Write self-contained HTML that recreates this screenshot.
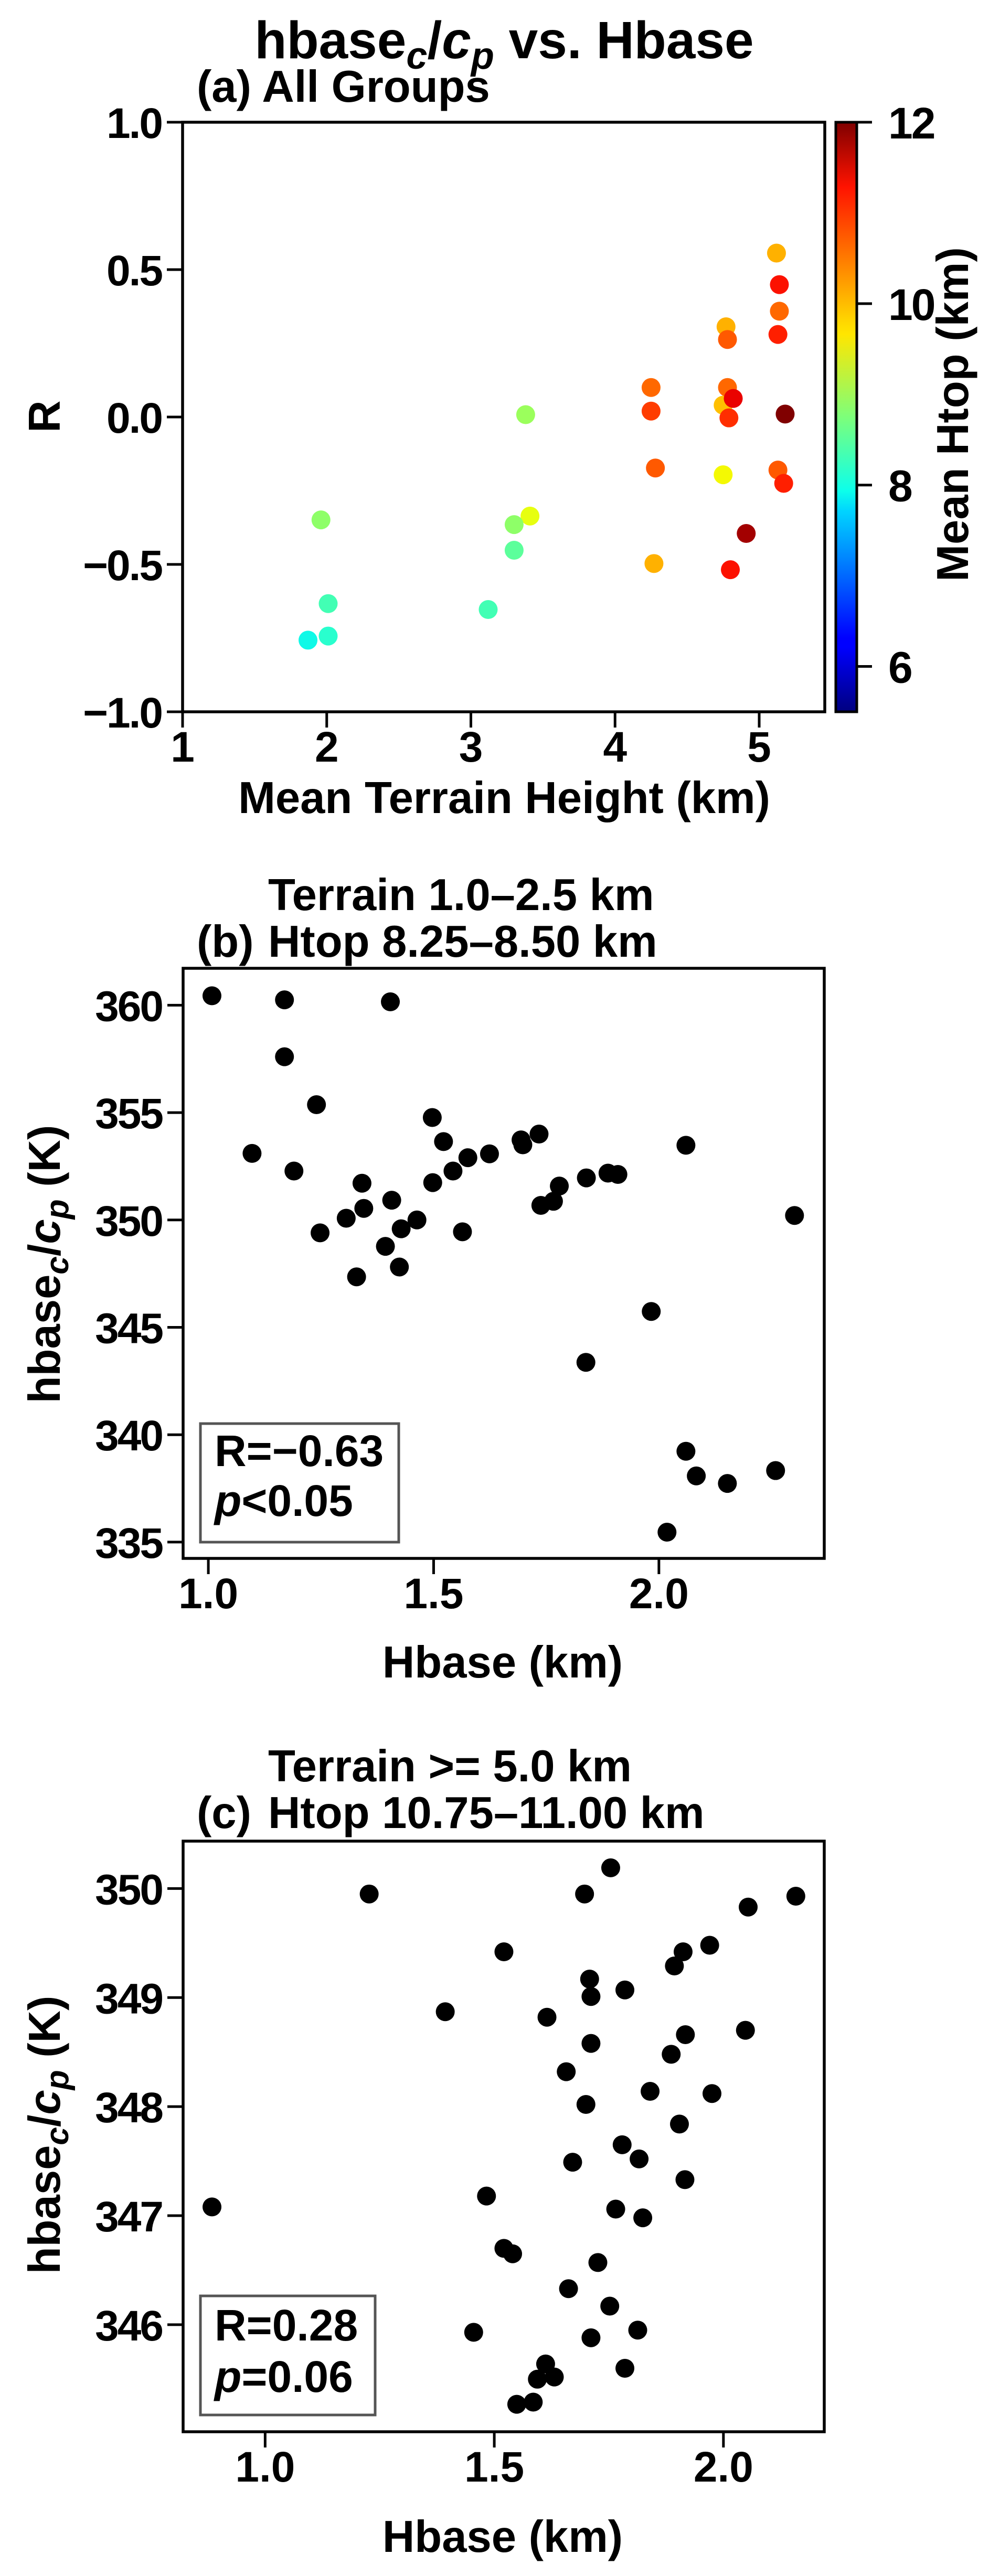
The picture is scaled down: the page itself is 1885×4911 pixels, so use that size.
<!DOCTYPE html>
<html><head><meta charset="utf-8"><style>
html,body{margin:0;padding:0;background:#fff;}
svg text{font-family:"Liberation Sans",sans-serif;font-weight:bold;fill:#000;}
</style></head><body>
<svg id="fig" width="1885" height="4906" viewBox="0 0 1885 4906" xmlns="http://www.w3.org/2000/svg">
<defs>
<linearGradient id="jetgrad" x1="0" y1="1" x2="0" y2="0">
<stop offset="0" stop-color="#00007f"/><stop offset="0.11" stop-color="#0000ff"/><stop offset="0.125" stop-color="#0000ff"/>
<stop offset="0.34" stop-color="#00d4ff"/><stop offset="0.375" stop-color="#0dffea"/><stop offset="0.5" stop-color="#7dff7a"/>
<stop offset="0.64" stop-color="#ffe600"/><stop offset="0.66" stop-color="#ffd800"/><stop offset="0.89" stop-color="#ff1300"/><stop offset="1" stop-color="#7f0000"/>
</linearGradient>
</defs>
<text x="961" y="111" font-size="100" text-anchor="middle">hbase<tspan font-style="italic" font-size="72" dy="20">c</tspan><tspan dy="-20">/</tspan><tspan font-style="italic">c</tspan><tspan font-style="italic" font-size="72" dy="20">p</tspan><tspan dy="-20"> vs. Hbase</tspan></text>
<g id="g"></g>
</svg>
<script>
// ---------- Panel (a) data ----------
const aTerrain = [5.12,5.14,5.14,5.13,4.77,4.78,4.25,4.25,4.78,4.75,4.82,4.79,5.18,3.38,4.28,4.75,5.13,5.17,3.41,3.30,1.96,4.91,3.30,4.27,4.80,2.01,3.12,2.01,1.87];
const aR = [0.556,0.449,0.359,0.28,0.306,0.263,0.10,0.02,0.10,0.04,0.063,-0.003,0.01,0.008,-0.173,-0.196,-0.18,-0.225,-0.336,-0.365,-0.349,-0.395,-0.452,-0.497,-0.518,-0.633,-0.653,-0.743,-0.757];
const aHtop = [10.2,11.3,10.7,11.2,10.2,10.8,10.7,11.0,10.7,10.1,11.4,11.1,12.0,9.0,10.8,9.7,10.8,11.2,9.6,8.9,8.9,11.8,8.5,10.2,11.3,8.3,8.3,8.1,7.9];
const aXTicks = [1,2,3,4,5];
const aYTicks = [1.0,0.5,0.0,-0.5,-1.0];
const cbTicks = [6,8,10,12];
// ---------- Panel (b) data ----------
const bHbase = [1.008,1.169,1.404,1.169,1.24,1.497,1.097,1.522,1.576,1.624,1.694,1.698,1.734,2.06,1.19,1.543,1.498,1.341,1.839,1.887,1.909,1.779,1.738,1.766,1.407,1.345,1.306,1.463,1.428,1.248,1.564,1.393,1.424,1.329,2.301,1.983,1.838,2.06,2.083,2.152,2.259,2.018];
const bTheta = [360.44,360.25,360.16,357.6,355.37,354.77,353.1,353.65,352.9,353.08,353.73,353.5,354.0,353.48,352.28,352.28,351.74,351.71,351.96,352.18,352.12,351.58,350.68,350.87,350.92,350.54,350.08,350.0,349.59,349.4,349.45,348.77,347.81,347.35,350.21,345.74,343.37,339.23,338.08,337.73,338.33,335.46];
const bXTicks = [1.0,1.5,2.0];
const bYTicks = [335,340,345,350,355,360];
// ---------- Panel (c) data ----------
const cHbase = [1.754,1.227,1.697,2.158,2.054,1.97,1.912,1.893,1.521,1.708,1.711,1.785,1.393,1.615,2.048,1.917,1.711,1.886,1.657,1.84,1.975,1.70,1.904,1.779,1.816,1.671,1.916,1.483,0.884,1.765,1.824,1.521,1.54,1.726,1.662,1.752,1.455,1.813,1.711,1.785,1.612,1.594,1.631,1.549,1.585];
const cTheta = [350.19,349.95,349.95,349.93,349.83,349.48,349.42,349.29,349.42,349.17,349.01,349.07,348.87,348.82,348.70,348.66,348.58,348.48,348.32,348.14,348.12,348.02,347.84,347.65,347.52,347.49,347.33,347.18,347.08,347.06,346.98,346.70,346.65,346.57,346.33,346.17,345.93,345.95,345.88,345.60,345.64,345.50,345.52,345.27,345.29];
const cXTicks = [1.0,1.5,2.0];
const cYTicks = [346,347,348,349,350];

const NS="http://www.w3.org/2000/svg";
const root=document.getElementById('g');
function mk(tag,attrs,parent,txt){const e=document.createElementNS(NS,tag);for(const k in attrs)e.setAttribute(k,attrs[k]);if(txt!==undefined)e.textContent=txt;(parent||root).appendChild(e);return e;}
function lin(d0,d1,p0,p1){return v=>p0+(v-d0)*(p1-p0)/(d1-d0);}
function interp(x,pts){for(let i=1;i<pts.length;i++){if(x<=pts[i][0]){const a=pts[i-1],b=pts[i];return a[1]+(x-a[0])*(b[1]-a[1])/(b[0]-a[0]);}}return pts[pts.length-1][1];}
function jet(t){t=Math.max(0,Math.min(1,t));
 const r=interp(t,[[0,0],[0.35,0],[0.66,1],[0.89,1],[1,0.5]]);
 const g=interp(t,[[0,0],[0.125,0],[0.375,1],[0.64,1],[0.91,0],[1,0]]);
 const b=interp(t,[[0,0.5],[0.11,1],[0.34,1],[0.65,0],[1,0]]);
 return `rgb(${Math.round(r*255)},${Math.round(g*255)},${Math.round(b*255)})`;}

function panel(name,L,R,T,B,xr,yr,xt,yt,xfmt,yfmt){
 const g=mk('g',{});
 
 
 const sx=lin(xr[0],xr[1],L,R), sy=lin(yr[0],yr[1],B,T);
 xt.forEach(v=>{const x=sx(v);
  const tk=mk('line',{x1:x,y1:B,x2:x,y2:B+30,stroke:'#000','stroke-width':5},g);
  
  
  const lb=mk('text',{x:x,y:B+95,'font-size':82,'text-anchor':'middle'},g,xfmt(v));
  
  });
 yt.forEach(v=>{const y=sy(v);
  const tk=mk('line',{x1:L-30,y1:y,x2:L,y2:y,stroke:'#000','stroke-width':5},g);
  
  
  const lb=mk('text',{x:L-40,y:y+30,'font-size':82,'text-anchor':'end','letter-spacing':'-3'},g,yfmt(v));
  
  });
 const fr=mk('rect',{x:L,y:T,width:R-L,height:B-T,fill:'none',stroke:'#000','stroke-width':5.5},g);
 
 
 return {g,sx,sy};
}
const mf=v=>v<0?'\u2212'+Math.abs(v).toFixed(1):v.toFixed(1);

// Panel a
const pa=panel('panel-a',348,1572,233,1357,[1,5.455],[-1,1],aXTicks,aYTicks,v=>String(v),mf);
aTerrain.forEach((v,i)=>{const c=mk('circle',{cx:pa.sx(v),cy:pa.sy(aR[i]),r:18,fill:jet((aHtop[i]-5.5)/6.5)},pa.g);
 
 });
// colorbar
const cb=mk('rect',{x:1593,y:233,width:40,height:1124,fill:'url(#jetgrad)',stroke:'#000','stroke-width':5});


const cy=lin(5.5,12,1357,233);
cbTicks.forEach(v=>{const y=cy(v);
 const t=mk('line',{x1:1633,y1:y,x2:1662,y2:y,stroke:'#000','stroke-width':5});
 
 
 const l=mk('text',{x:1693,y:y+31,'font-size':84,'letter-spacing':'-3'},undefined,String(v));
 
 });
</script>
<script>
// static labels & panels b, c
(function(){
const lbl=[
 ['panel-a-subtitle',375,194,85,'start','(a) All Groups'],
 ['x-axis-title-a',961,1550,85,'middle','Mean Terrain Height (km)'],
 ['panel-b-title',511,1735,85,'start','Terrain 1.0\u20132.5 km'],
 ['panel-b-subtitle',511,1824,85,'start','Htop 8.25\u20138.50 km'],
 ['panel-b-label',375,1824,85,'start','(b)'],
 ['x-axis-title-b',958,3198,85,'middle','Hbase (km)'],
 ['panel-c-title',511,3396,85,'start','Terrain >= 5.0 km'],
 ['panel-c-subtitle',511,3485,85,'start','Htop 10.75\u201311.00 km'],
 ['panel-c-label',375,3485,85,'start','(c)'],
 ['x-axis-title-c',958,4865,85,'middle','Hbase (km)']];
lbl.forEach(a=>{const t=mk('text',{x:a[1],y:a[2],'font-size':a[3],'text-anchor':a[4]},undefined,a[5]);
 
 });
const ra=mk('text',{x:0,y:0,'font-size':85,'text-anchor':'middle',transform:'translate(114,794) rotate(-90)'},undefined,'R');


const cl=mk('text',{x:0,y:0,'font-size':85,'text-anchor':'middle',transform:'translate(1845,790) rotate(-90)'},undefined,'Mean Htop (km)');


function ylab(name,cx,cyy){const t=mk('text',{x:0,y:0,'font-size':85,'text-anchor':'middle',transform:`translate(${cx},${cyy}) rotate(-90)`});
 
 
 t.innerHTML='hbase<tspan font-style="italic" font-size="62" dy="16">c</tspan><tspan dy="-16">/</tspan><tspan font-style="italic">c</tspan><tspan font-style="italic" font-size="62" dy="16">p</tspan><tspan dy="-16"> (K)</tspan>';}
ylab('y-axis-title-b',114,2410);
ylab('y-axis-title-c',114,4070);

const pb=panel('panel-b',349,1571,1846,2971,[0.944,2.367],[334.24,361.72],bXTicks,bYTicks,v=>v.toFixed(1),v=>String(v));
bHbase.forEach((v,i)=>{const c=mk('circle',{cx:pb.sx(v),cy:pb.sy(bTheta[i]),r:18,fill:'#000'},pb.g);
 
 });
const bb=mk('rect',{x:382,y:2714,width:378,height:226,fill:'#fff',stroke:'#555','stroke-width':5},pb.g);


const bt1=mk('text',{x:409,y:2795,'font-size':84},pb.g,'R=\u22120.63');


const bt2=mk('text',{x:409,y:2890,'font-size':84},pb.g);


bt2.innerHTML='<tspan font-style="italic">p</tspan>&lt;0.05';

const pc=panel('panel-c',349,1571,3510,4636,[0.821,2.22],[345.018,350.435],cXTicks,cYTicks,v=>v.toFixed(1),v=>String(v));
cHbase.forEach((v,i)=>{const c=mk('circle',{cx:pc.sx(v),cy:pc.sy(cTheta[i]),r:18,fill:'#000'},pc.g);
 
 });
const cbx=mk('rect',{x:382,y:4377,width:333,height:227,fill:'#fff',stroke:'#555','stroke-width':5},pc.g);


const ct1=mk('text',{x:409,y:4462,'font-size':84},pc.g,'R=0.28');


const ct2=mk('text',{x:409,y:4560,'font-size':84},pc.g);


ct2.innerHTML='<tspan font-style="italic">p</tspan>=0.06';
})();
</script>
</body></html>
